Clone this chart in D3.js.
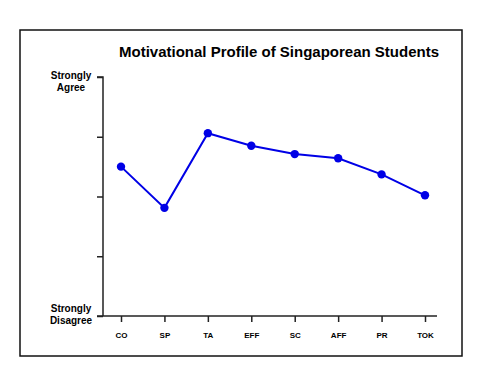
<!DOCTYPE html>
<html>
<head>
<meta charset="utf-8">
<script src="https://cdn.jsdelivr.net/npm/d3@7"></script>
<style>
  body { margin: 0; background: #fff; }
  text { font-family: "Liberation Sans", Arial, sans-serif; font-weight: bold; fill: #000; }
</style>
</head>
<body>
<div id="chart"></div>
<script>
// data (1 = strongly disagree, 5 = strongly agree)
var categories = ["CO", "SP", "TA", "EFF", "SC", "AFF", "PR", "TOK"];
var scores = [3.50, 2.81, 4.06, 3.85, 3.71, 3.64, 3.37, 3.02];
var yTicks = [1, 2, 3, 4, 5];
var yEndLabels = { 5: ["Strongly", "Agree"], 1: ["Strongly", "Disagree"] };

var width = 500, height = 375;

var svg = d3.select("#chart").append("svg")
  .attr("width", width)
  .attr("height", height);

// outer frame
svg.append("rect")
  .attr("x", 20).attr("y", 30)
  .attr("width", 442).attr("height", 326)
  .attr("fill", "none")
  .attr("stroke", "#111")
  .attr("stroke-width", 1.5);

svg.append("text")
  .attr("x", 279).attr("y", 57)
  .attr("text-anchor", "middle")
  .style("font-size", "15px")
  .text("Motivational Profile of Singaporean Students");

var x = d3.scalePoint().domain(categories).range([121, 425]);
var y = d3.scaleLinear().domain([1, 5]).range([316, 77]);

// y axis
var yAxis = svg.append("g")
  .attr("transform", "translate(103,0)")
  .call(d3.axisLeft(y).tickValues(yTicks).tickSize(6).tickFormat(""));
yAxis.select(".domain").attr("stroke", "#222").attr("stroke-width", 1.5).attr("d", "M-6," + y(5) + "H0V" + y(1) + "H0");
yAxis.selectAll(".tick line").attr("stroke", "#222").attr("stroke-width", 1.5);

// x axis
var xAxis = svg.append("g")
  .attr("transform", "translate(0,316)")
  .call(d3.axisBottom(x).tickSize(6).tickPadding(10));
xAxis.select(".domain").attr("stroke", "#222").attr("stroke-width", 1.5).attr("d", "M97,0H437");
xAxis.selectAll(".tick line").attr("stroke", "#222").attr("stroke-width", 1.5);
xAxis.selectAll(".tick text")
  .attr("fill", "#000")
  .style("font-family", "Liberation Sans, Arial, sans-serif")
  .style("font-weight", "bold")
  .style("font-size", "8px");

// end labels on y axis
Object.keys(yEndLabels).forEach(function(k) {
  var lines = yEndLabels[k];
  var top = +k === 5 ? y(+k) + 2 : y(+k) - 4;
  lines.forEach(function(s, i) {
    svg.append("text")
      .attr("x", 71)
      .attr("y", top + i * 11.5)
      .attr("text-anchor", "middle")
      .style("font-size", "10px")
      .text(s);
  });
});

var line = d3.line()
  .x(function(d, i) { return x(categories[i]); })
  .y(function(d) { return y(d); });

svg.append("path")
  .datum(scores)
  .attr("d", line)
  .attr("fill", "none")
  .attr("stroke", "#0000e6")
  .attr("stroke-width", 2);

svg.selectAll(".dot")
  .data(scores)
  .enter().append("circle")
  .attr("class", "dot")
  .attr("cx", function(d, i) { return x(categories[i]); })
  .attr("cy", function(d) { return y(d); })
  .attr("r", 4.2)
  .attr("fill", "#0000e6");
</script>
</body>
</html>
